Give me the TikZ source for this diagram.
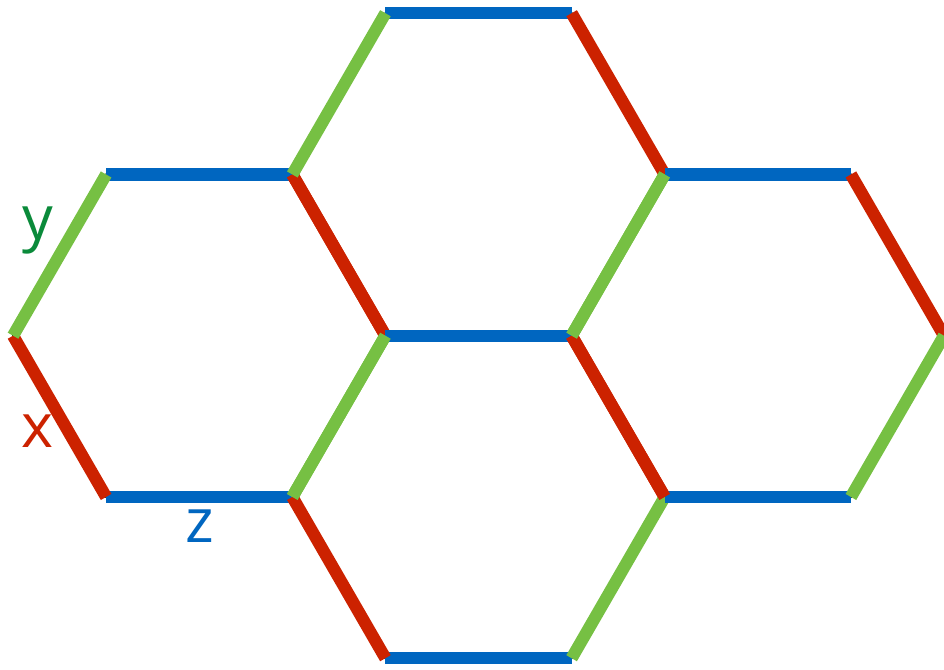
\documentclass[tikz,border=0pt]{standalone}
\usepackage{fontspec}
\setmainfont{Open Sans}
\usepackage{tikz}
\usetikzlibrary{calc}
\definecolor{kxred}{HTML}{CC2200}
\definecolor{kyline}{HTML}{76C043}
\definecolor{kytext}{HTML}{0A8A3A}
\definecolor{kzblue}{HTML}{0066C0}
\tikzset{
  bond/.style={line width=5.6pt,line cap=butt},
  xbond/.style={bond,draw=kxred},
  ybond/.style={bond,draw=kyline},
  zbond/.style={bond,draw=kzblue},
  cellframe/.style={draw=black,line width=1pt,line join=round},
  blabel/.style={anchor=base,inner sep=0pt,font=\fontsize{28}{34}\selectfont}
}

\begin{document}
\begin{tikzpicture}[x=3cm,y=3cm]
    \useasboundingbox (-0.07,-1.792) rectangle (5.0,1.803);
    % plaquette centres
    \coordinate (A) at (1,0);
    \coordinate (B) at (2.5,0.866);
    \coordinate (C) at (2.5,-0.866);
    \coordinate (D) at (4,0);
    \foreach \h in {A,B,C,D}{
      \foreach \k in {0,...,5}
        \coordinate (\h\k) at ($(\h)+(60*\k:1)$);
    }
    % thin outline under the bonds
    \foreach \h in {A,B,C,D}
      \draw[cellframe] (\h0)--(\h1)--(\h2)--(\h3)--(\h4)--(\h5)--cycle;
    % x, y, z bonds
    \foreach \h in {A,B,C,D}{
      \draw[zbond] (\h1)--(\h2);
      \draw[zbond] (\h4)--(\h5);
      \draw[xbond] (\h0)--(\h1);
      \draw[xbond] (\h3)--(\h4);
      \draw[ybond] (\h2)--(\h3);
      \draw[ybond] (\h5)--(\h0);
    }
    \node[blabel,text=kytext] (ylab) at (0.134,0.515) {y};
    \node[blabel,text=kxred] (xlab) at (0.134,-0.601) {x};
    \node[blabel,text=kzblue] (zlab) at (1.003,-1.110) {z};
  \end{tikzpicture}
\end{document}
